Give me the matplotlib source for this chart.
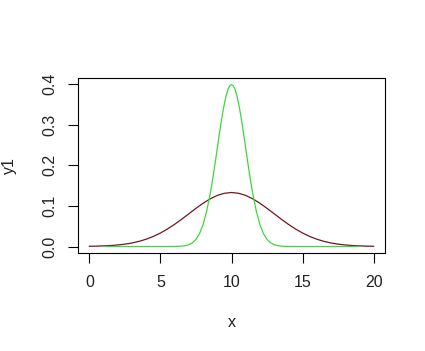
import matplotlib
matplotlib.use('Agg')
import matplotlib.pyplot as plt

# green curve (narrow)
green_x = [1, 5, 6, 6.5, 6.75, 7, 7.25, 7.5, 7.75, 8, 8.25, 8.5, 8.625, 8.75, 8.875, 9,
           9.125, 9.25, 9.375, 9.5, 9.625, 9.75, 9.875, 10, 10.125, 10.25, 10.375, 10.5,
           10.625, 10.75, 10.875, 11, 11.125, 11.25, 11.375, 11.5, 11.75, 12, 12.25, 12.5,
           12.75, 13, 13.25, 13.5, 14, 15, 19]
green_y = [0, 0, 0.0001, 0.0009, 0.0020, 0.0044, 0.0091, 0.0175, 0.0317, 0.0540, 0.0863,
           0.1295, 0.1550, 0.1826, 0.2119, 0.2420, 0.2720, 0.3011, 0.3282, 0.3521, 0.3719,
           0.3867, 0.3958, 0.3989, 0.3958, 0.3867, 0.3719, 0.3521, 0.3282, 0.3011, 0.2720,
           0.2420, 0.2119, 0.1826, 0.1550, 0.1295, 0.0863, 0.0540, 0.0317, 0.0175, 0.0091,
           0.0044, 0.0020, 0.0009, 0.0001, 0, 0]

# dark red curve (wide)
red_x = [0, 0.5, 1, 1.5, 2, 2.5, 3, 3.5, 4, 4.5, 5, 5.5, 6, 6.5, 7, 7.5, 8, 8.5, 9, 9.5,
         10, 10.5, 11, 11.5, 12, 12.5, 13, 13.5, 14, 14.5, 15, 15.5, 16, 16.5, 17, 17.5,
         18, 18.5, 19, 19.5, 20]
red_y = [0.0005, 0.0009, 0.0015, 0.0024, 0.0038, 0.0058, 0.0087, 0.0127, 0.0180, 0.0248,
         0.0332, 0.0432, 0.0547, 0.0673, 0.0807, 0.0940, 0.1065, 0.1174, 0.1258, 0.1311,
         0.1330, 0.1311, 0.1258, 0.1174, 0.1065, 0.0940, 0.0807, 0.0673, 0.0547, 0.0432,
         0.0332, 0.0248, 0.0180, 0.0127, 0.0087, 0.0058, 0.0038, 0.0024, 0.0015, 0.0009,
         0.0005]

x_ticks = [0, 5, 10, 15, 20]
y_ticks = [0.0, 0.1, 0.2, 0.3, 0.4]

plt.rcParams['font.family'] = ['Liberation Sans', 'DejaVu Sans']

fig = plt.figure(figsize=(4.25, 3.51), dpi=100)
ax = fig.add_axes([78 / 425, 1 - 253 / 351, 307 / 425, 175 / 351])

ax.plot(red_x, red_y, color='#74161e', lw=0.9)
ax.plot(green_x, green_y, color='#3fd63f', lw=0.9)

ax.set_xlim(-0.8, 20.8)
ax.set_ylim(-0.016, 0.415)
ax.set_xticks(x_ticks)
ax.set_xticklabels([str(t) for t in x_ticks])
ax.set_yticks(y_ticks)
ax.set_yticklabels(['%.1f' % t for t in y_ticks], rotation=90, va='center')
ax.tick_params(direction='out', length=7, width=0.8, labelsize=11.5, pad=9,
               labelcolor='#222222')
ax.tick_params(axis='y', pad=8)
for s in ax.spines.values():
    s.set_linewidth(0.8)

ax.set_xlabel('x', fontsize=11.5, labelpad=18, color='#222222')
ax.set_ylabel('y1', fontsize=11.5, labelpad=18, color='#222222')

fig.savefig('out.png', dpi=100)
